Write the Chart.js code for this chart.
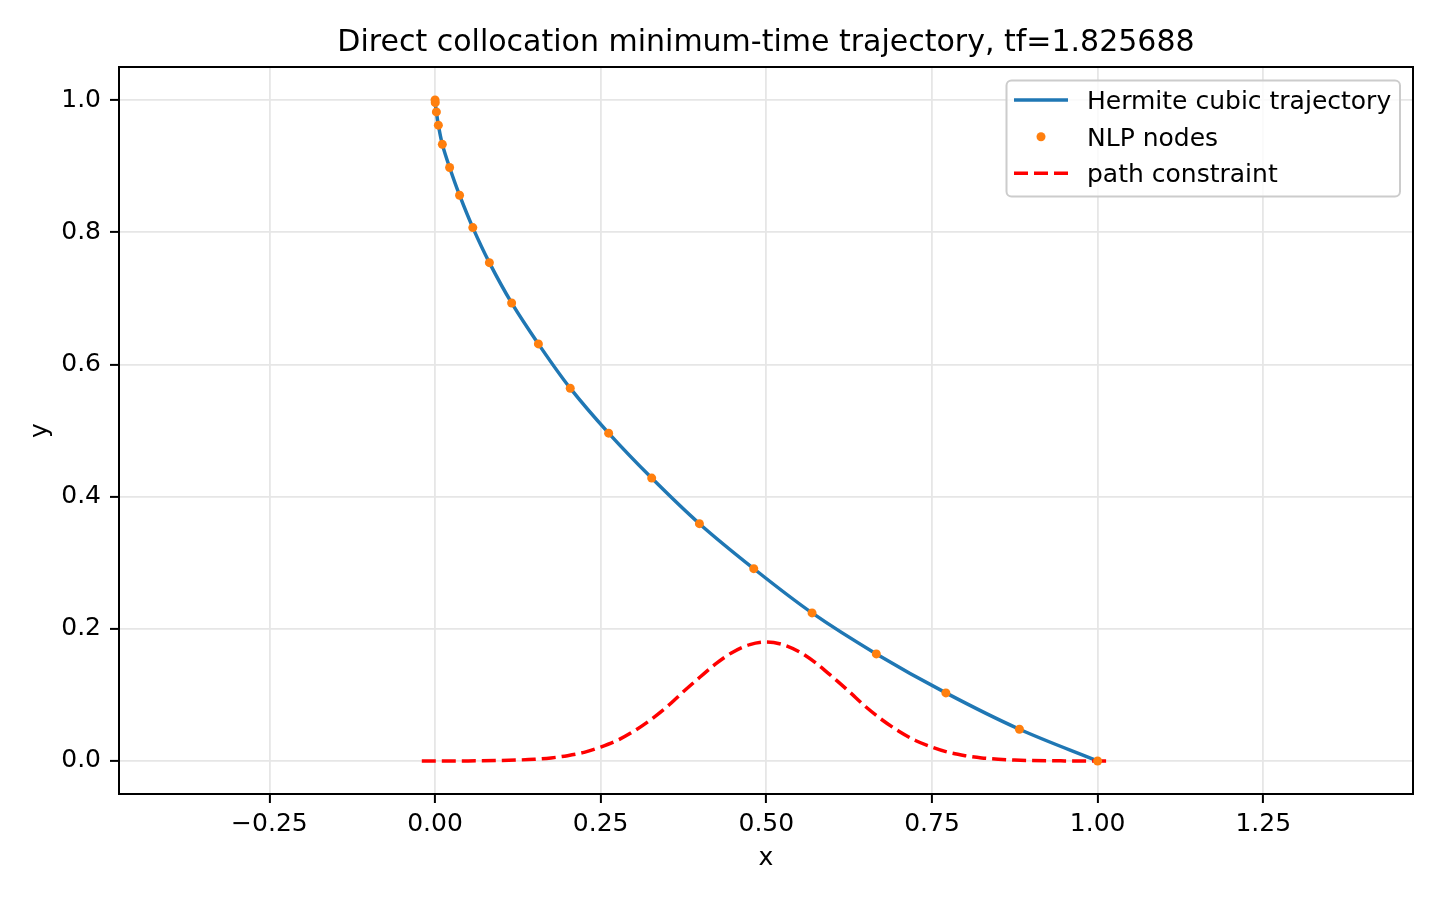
<!DOCTYPE html>
<html>
<head>
<meta charset="utf-8">
<script src="https://cdn.jsdelivr.net/npm/chart.js@4"></script>
<style>
html,body{margin:0;padding:0;background:#fff;}
#wrap{width:1440px;height:900px;position:relative;}
</style>
</head>
<body>
<div id="wrap"><canvas id="c"></canvas></div>
<script>
// ---- data ----
const titleText = "Direct collocation minimum-time trajectory, tf=1.825688";
const xLabel = "x";
const yLabel = "y";
const seriesLabels = ["Hermite cubic trajectory", "NLP nodes", "path constraint"];

const nodeX = [0.000, 0.0003, 0.002, 0.005, 0.011, 0.022, 0.037, 0.057, 0.082, 0.1156, 0.156, 0.204, 0.262, 0.327, 0.399, 0.481, 0.569, 0.666, 0.771, 0.882, 1.000];
const nodeY = [1.000, 0.996, 0.982, 0.962, 0.933, 0.898, 0.856, 0.807, 0.754, 0.693, 0.631, 0.564, 0.496, 0.428, 0.359, 0.291, 0.224, 0.162, 0.103, 0.048, 0.000];

const constraintX = [-0.02, 0.0, 0.05, 0.10, 0.125, 0.15, 0.175, 0.20, 0.225, 0.25, 0.275, 0.30, 0.325, 0.35, 0.375, 0.40, 0.425, 0.45, 0.475, 0.50,
                     0.525, 0.55, 0.575, 0.60, 0.625, 0.65, 0.675, 0.70, 0.725, 0.75, 0.775, 0.80, 0.825, 0.85, 0.875, 0.90, 0.95, 1.0, 1.02];
const constraintY = [0.0, 0.0, 0.0001, 0.0007, 0.0014, 0.0026, 0.0046, 0.008, 0.013, 0.021, 0.031, 0.045, 0.062, 0.082, 0.105, 0.127, 0.148, 0.165, 0.176, 0.180,
                     0.176, 0.165, 0.148, 0.127, 0.105, 0.082, 0.062, 0.045, 0.031, 0.021, 0.013, 0.008, 0.0046, 0.0026, 0.0014, 0.0007, 0.0001, 0.0, 0.0];

const xTicks = [-0.25, 0.00, 0.25, 0.50, 0.75, 1.00, 1.25];
const yTicks = [0.0, 0.2, 0.4, 0.6, 0.8, 1.0];
const xRange = [-0.477, 1.476];
const yRange = [-0.05, 1.05];

// ---- styling ----
const FONT = "'DejaVu Sans', 'Liberation Sans', sans-serif";
const BLUE = "#1f77b4", ORANGE = "#ff7f0e", RED = "#ff0000";
const GRID = "#e6e6e6";
const DASH = [14, 6];

Chart.defaults.color = "#000";
Chart.defaults.font.family = FONT;

const pts = (xs, ys) => xs.map((x, i) => ({x: x, y: ys[i]}));

const framePlugin = {
  id: "frameTitleLegend",
  afterDraw(chart) {
    const {ctx, chartArea: a} = chart;
    ctx.save();
    // frame
    ctx.strokeStyle = "#000";
    ctx.lineWidth = 2;
    ctx.strokeRect(a.left, a.top, a.right - a.left, a.bottom - a.top);
    // title
    ctx.fillStyle = "#000";
    ctx.font = "30px " + FONT;
    ctx.textAlign = "center";
    ctx.textBaseline = "alphabetic";
    ctx.fillText(titleText, (a.left + a.right) / 2, 51);
    // legend
    const bx = 1006.5, by = 80.5, bw = 393.5, bh = 116, r = 5;
    ctx.beginPath();
    ctx.moveTo(bx + r, by);
    ctx.lineTo(bx + bw - r, by);
    ctx.arcTo(bx + bw, by, bx + bw, by + r, r);
    ctx.lineTo(bx + bw, by + bh - r);
    ctx.arcTo(bx + bw, by + bh, bx + bw - r, by + bh, r);
    ctx.lineTo(bx + r, by + bh);
    ctx.arcTo(bx, by + bh, bx, by + bh - r, r);
    ctx.lineTo(bx, by + r);
    ctx.arcTo(bx, by, bx + r, by, r);
    ctx.closePath();
    ctx.fillStyle = "rgba(255,255,255,0.8)";
    ctx.fill();
    ctx.strokeStyle = "#cccccc";
    ctx.lineWidth = 2;
    ctx.stroke();
    const rows = [100, 136.7, 173.3];
    const hx0 = 1014, hx1 = 1068;
    // handle 1
    ctx.strokeStyle = BLUE; ctx.lineWidth = 3.5; ctx.setLineDash([]);
    ctx.beginPath(); ctx.moveTo(hx0, rows[0]); ctx.lineTo(hx1, rows[0]); ctx.stroke();
    // handle 2
    ctx.fillStyle = ORANGE;
    ctx.beginPath(); ctx.arc((hx0 + hx1) / 2, rows[1], 4.5, 0, Math.PI * 2); ctx.fill();
    // handle 3
    ctx.strokeStyle = RED; ctx.setLineDash(DASH);
    ctx.beginPath(); ctx.moveTo(hx0, rows[2]); ctx.lineTo(hx1, rows[2]); ctx.stroke();
    ctx.setLineDash([]);
    ctx.fillStyle = "#000";
    ctx.font = "25px " + FONT;
    ctx.textAlign = "left";
    ctx.textBaseline = "alphabetic";
    seriesLabels.forEach((t, i) => ctx.fillText(t, 1087, rows[i] + 9));
    ctx.restore();
  }
};

new Chart(document.getElementById("c"), {
  type: "scatter",
  data: {
    datasets: [
      {
        label: seriesLabels[1],
        data: pts(nodeX, nodeY),
        showLine: false,
        pointRadius: 4.5,
        pointBackgroundColor: ORANGE,
        pointBorderWidth: 0,
        order: 0
      },
      {
        label: seriesLabels[2],
        data: pts(constraintX, constraintY),
        showLine: true,
        borderColor: RED,
        borderWidth: 3.5,
        borderDash: DASH,
        pointRadius: 0,
        cubicInterpolationMode: "monotone",
        order: 1
      },
      {
        label: seriesLabels[0],
        data: pts(nodeX, nodeY),
        showLine: true,
        borderColor: BLUE,
        borderWidth: 3.5,
        pointRadius: 0,
        tension: 0.35,
        order: 2
      }
    ]
  },
  options: {
    responsive: true,
    maintainAspectRatio: false,
    animation: false,
    events: [],
    layout: {padding: {top: 67, right: 27, left: 0, bottom: 0}},
    plugins: {legend: {display: false}, tooltip: {enabled: false}, title: {display: false}},
    scales: {
      x: {
        type: "linear",
        min: xRange[0], max: xRange[1],
        afterBuildTicks: s => { s.ticks = xTicks.map(v => ({value: v})); },
        afterFit: s => { s.height = 106; },
        ticks: {
          font: {size: 25, family: FONT}, color: "#000", padding: 6, maxRotation: 0, autoSkip: false,
          callback: v => v.toFixed(2).replace("-", "\u2212")
        },
        grid: {color: GRID, lineWidth: 1.8, tickColor: "#000", tickLength: 9, tickWidth: 2, drawTicks: true},
        border: {display: false},
        title: {display: true, text: xLabel, font: {size: 25, family: FONT}, color: "#000", padding: {top: 0, bottom: 27}}
      },
      y: {
        type: "linear",
        min: yRange[0], max: yRange[1],
        afterBuildTicks: s => { s.ticks = yTicks.map(v => ({value: v})); },
        afterFit: s => { s.width = 119; },
        ticks: {
          font: {size: 25, family: FONT}, color: "#000", padding: 9, autoSkip: false,
          callback: v => v.toFixed(1)
        },
        grid: {color: GRID, lineWidth: 1.8, tickColor: "#000", tickLength: 9, tickWidth: 2, drawTicks: true},
        border: {display: false},
        title: {display: true, text: yLabel, font: {size: 25, family: FONT}, color: "#000", padding: {top: 25, bottom: 0}}
      }
    }
  },
  plugins: [framePlugin]
});
</script>
</body>
</html>
